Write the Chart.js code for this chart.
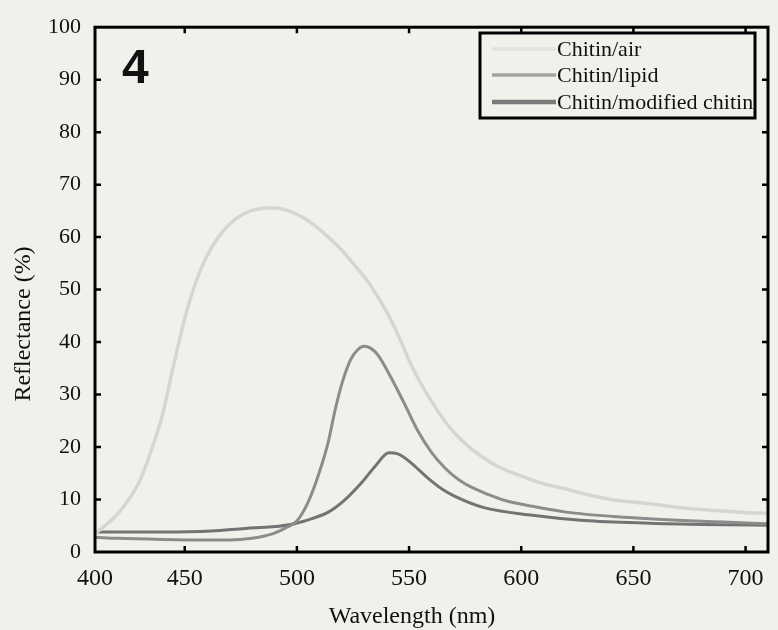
<!DOCTYPE html>
<html>
<head>
<meta charset="utf-8">
<script src="https://cdn.jsdelivr.net/npm/chart.js@4.4.0/dist/chart.umd.min.js"></script>
<style>
    html, body { margin: 0; padding: 0; background: #f1f1ec; }
    #wrap { width: 778px; height: 630px; }
</style>
</head>
<body>
<div id="wrap"><canvas id="reflChart" width="778" height="630"></canvas></div>
<script>
// Wavelength (nm) / reflectance (%)
const airWl = [410, 415, 420, 425, 430, 435, 440, 445, 450, 455, 460, 465, 470, 475, 480, 488, 495, 502, 508, 514, 520, 527, 533, 541, 546, 550, 555, 560, 568, 575, 583, 590, 598, 610, 620, 628, 640, 657, 670, 687, 700, 710];
const airR  = [3.5, 5.2, 7.2, 10.0, 13.6, 19.2, 26, 35.5, 44.5, 51.5, 56.5, 60, 62.5, 64.1, 65.1, 65.6, 65.2, 63.9, 62.2, 60, 57.5, 54, 50.7, 45, 40.5, 36.5, 32.3, 28.7, 23.8, 20.7, 18, 16.2, 14.8, 13, 12, 11.1, 10, 9.2, 8.5, 7.9, 7.5, 7.4];

const lipidWl = [410, 420, 440, 460, 470, 480, 485, 490, 495, 500, 505, 510, 514, 517, 520, 524, 527, 530, 533, 536, 542, 548, 554, 560, 566, 572, 578, 585, 592, 605, 620, 643, 672, 690, 710];
const lipidR  = [2.8, 2.6, 2.4, 2.3, 2.3, 2.6, 3.0, 3.6, 4.6, 5.9, 9.5, 15.2, 21, 27, 32, 36.7, 38.5, 39.2, 38.8, 37.6, 33.2, 28.2, 23, 19, 16, 13.8, 12.3, 11, 9.9, 8.7, 7.6, 6.7, 6.0, 5.7, 5.4];

const modWl = [410, 440, 462, 477, 489, 499, 507, 514, 521, 529, 535, 541, 545, 550, 555, 560, 565, 570, 583, 605, 628, 657, 690, 710];
const modR  = [3.8, 3.8, 4.0, 4.5, 4.8, 5.4, 6.4, 7.6, 9.8, 13.3, 16.4, 18.9, 18.7, 17.3, 15.4, 13.5, 11.9, 10.7, 8.5, 7.0, 6.0, 5.5, 5.2, 5.1];

const seriesNames = ['Chitin/air', 'Chitin/lipid', 'Chitin/modified chitin'];
const xTicks = [410, 450, 500, 550, 600, 650, 700];
const xTickLabels = ['400', '450', '500', '550', '600', '650', '700'];
const yTicks = [0, 10, 20, 30, 40, 50, 60, 70, 80, 90, 100];

const bgColor = '#f1f1ec';
const serif = "'Liberation Serif', 'Times New Roman', serif";

// Pair wavelengths with values
function toPoints(wl, r) {
    return wl.map((w, i) => ({ x: w, y: r[i] }));
}

// Background, frame with inward ticks, legend box, panel number, axis titles
const decorPlugin = {
    id: 'decor',
    beforeDraw(chart) {
        const ctx = chart.ctx;
        ctx.save();
        ctx.fillStyle = bgColor;
        ctx.fillRect(0, 0, chart.width, chart.height);
        ctx.restore();
    },
    afterDraw(chart) {
        const ctx = chart.ctx;
        const a = chart.chartArea;
        const xs = chart.scales.x;
        const ys = chart.scales.y;
        ctx.save();

        // frame
        ctx.strokeStyle = '#000';
        ctx.lineWidth = 3;
        ctx.strokeRect(a.left, a.top, a.right - a.left, a.bottom - a.top);

        // inward ticks
        ctx.lineWidth = 2.5;
        ctx.beginPath();
        yTicks.slice(1, -1).forEach(v => {
            const py = ys.getPixelForValue(v);
            ctx.moveTo(a.left, py); ctx.lineTo(a.left + 6, py);
            ctx.moveTo(a.right, py); ctx.lineTo(a.right - 6, py);
        });
        xTicks.slice(1).forEach(v => {
            const px = xs.getPixelForValue(v);
            ctx.moveTo(px, a.bottom); ctx.lineTo(px, a.bottom - 6);
            ctx.moveTo(px, a.top); ctx.lineTo(px, a.top + 6);
        });
        ctx.stroke();

        // legend
        const lx = 480, ly = 33, lw = 275, lh = 85;
        ctx.fillStyle = bgColor;
        ctx.fillRect(lx, ly, lw, lh);
        ctx.strokeStyle = '#000';
        ctx.lineWidth = 3;
        ctx.strokeRect(lx, ly, lw, lh);
        const rows = [49, 75, 102];
        const legendLine = ['#e2e2de', '#a2a2a2', '#7a7a7a'];
        ctx.font = '22px ' + serif;
        ctx.textAlign = 'left';
        ctx.textBaseline = 'middle';
        chart.data.datasets.forEach((ds, i) => {
            ctx.strokeStyle = legendLine[i];
            ctx.lineWidth = i === 2 ? 4.5 : 3.5;
            ctx.beginPath();
            ctx.moveTo(492, rows[i]);
            ctx.lineTo(556, rows[i]);
            ctx.stroke();
            ctx.fillStyle = '#111';
            ctx.fillText(ds.label, 557, rows[i] + 1);
        });

        // panel number
        ctx.fillStyle = '#111';
        ctx.font = "bold 48px 'Liberation Sans', Arial, sans-serif";
        ctx.textBaseline = 'alphabetic';
        ctx.fillText('4', 122, 83);

        // axis titles
        ctx.font = '24px ' + serif;
        ctx.textAlign = 'center';
        ctx.textBaseline = 'middle';
        ctx.fillText('Wavelength (nm)', 412, 617);
        ctx.translate(24, 324);
        ctx.rotate(-Math.PI / 2);
        ctx.fillText('Reflectance (%)', 0, 0);

        ctx.restore();
    }
};

const ctx = document.getElementById('reflChart').getContext('2d');
const reflChart = new Chart(ctx, {
    type: 'line',
    data: {
        datasets: [
            {
                label: seriesNames[0],
                data: toPoints(airWl, airR),
                borderColor: '#d6d6d1',
                borderWidth: 3.5,
                pointRadius: 0,
                cubicInterpolationMode: 'monotone'
            },
            {
                label: seriesNames[1],
                data: toPoints(lipidWl, lipidR),
                borderColor: '#8c8c8c',
                borderWidth: 3,
                pointRadius: 0,
                cubicInterpolationMode: 'monotone'
            },
            {
                label: seriesNames[2],
                data: toPoints(modWl, modR),
                borderColor: '#737373',
                borderWidth: 3,
                pointRadius: 0,
                cubicInterpolationMode: 'monotone'
            }
        ]
    },
    options: {
        responsive: false,
        devicePixelRatio: 1,
        animation: false,
        layout: {
            padding: { top: 22, right: 10, left: 0, bottom: 0 }
        },
        plugins: {
            legend: { display: false },
            tooltip: { enabled: false }
        },
        scales: {
            x: {
                type: 'linear',
                min: 410,
                max: 710,
                afterBuildTicks: scale => {
                    scale.ticks = xTicks.map(v => ({ value: v }));
                },
                afterFit: scale => { scale.height = 78; },
                grid: { display: false, drawTicks: false },
                border: { display: false },
                ticks: {
                    padding: 12,
                    color: '#111',
                    font: { family: serif, size: 24 },
                    callback: value => xTickLabels[xTicks.indexOf(value)]
                }
            },
            y: {
                min: 0,
                max: 100,
                afterBuildTicks: scale => {
                    scale.ticks = yTicks.map(v => ({ value: v }));
                },
                afterFit: scale => { scale.width = 95; },
                grid: { display: false, drawTicks: false },
                border: { display: false },
                ticks: {
                    padding: 14,
                    color: '#111',
                    font: { family: serif, size: 22 }
                }
            }
        }
    },
    plugins: [decorPlugin]
});
</script>
</body>
</html>
